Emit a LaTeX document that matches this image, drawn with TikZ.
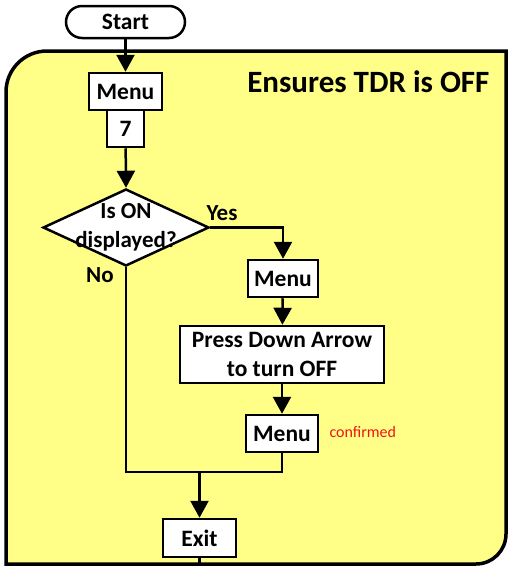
\documentclass[tikz,border=0pt]{standalone}
\usepackage{fontspec}
\setmainfont{Carlito}
\usetikzlibrary{arrows.meta,shapes.geometric}
\definecolor{panel}{RGB}{255,255,136}
\definecolor{conf}{RGB}{240,20,20}
\tikzset{
  stepbox/.style={draw,fill=white,line width=2.5pt,inner sep=0pt,font=\bfseries\fontsize{23.5}{28.5}\selectfont,align=center},
  conn/.style={line width=2.5pt},
  arr/.style={conn,-{Triangle[width=18pt,length=17pt]}},
  lbl/.style={font=\bfseries\fontsize{23}{29}\selectfont},
}
\begin{document}
\begin{tikzpicture}[x=1pt,y=-1pt]
\useasboundingbox (0,0) rectangle (508,566);
% panel
\draw[line width=3.5pt,fill=panel] (6,568) -- (6,92) arc[start angle=180,end angle=270,radius=41] -- (506,51) -- (506,534) arc[start angle=0,end angle=90,radius=30] -- (6,564) -- cycle;
\node[font=\bfseries\fontsize{31}{36}\selectfont,anchor=east] (title) at (493,82) {Ensures TDR is OFF};
% nodes
\node[stepbox,rounded corners=16pt,minimum width=119pt,minimum height=32pt] (start) at (125.5,22) {Start};
\node[stepbox,minimum width=73pt,minimum height=37pt] (menu1) at (125.5,91.5) {Menu};
\node[stepbox,minimum width=37pt,minimum height=37pt] (seven) at (125.5,128.5) {7};
\node[draw,fill=white,line width=2.5pt,diamond,inner sep=0pt,aspect=2.16,minimum width=166pt,minimum height=77pt] (dia) at (126,227.5) {};
\node[lbl,align=center] (diatext) at (dia.center) {Is ON\\displayed?};
\node[lbl] (yes) at (222,213) {Yes};
\node[lbl] (no) at (100,275) {No};
\node[stepbox,minimum width=70pt,minimum height=37pt] (menu2) at (283,278.5) {Menu};
\node[stepbox,minimum width=204pt,minimum height=57pt] (press) at (282,354.5) {Press Down Arrow\\to turn OFF};
\node[stepbox,minimum width=72pt,minimum height=37pt] (menu3) at (282,433.5) {Menu};
\node[text=conf,font=\fontsize{16}{19}\selectfont,anchor=west] (confirmed) at (326,432) {confirmed};
\node[stepbox,minimum width=73pt,minimum height=38pt] (exit) at (199.5,538) {Exit};
\coordinate (j) at (199.5,472);
\coordinate (bottom) at (199.5,570);
% connectors
\draw[arr] (start) -- (menu1);
\draw[arr] (seven) -- (dia.north);
\draw[arr] (dia.east) -| (menu2.north);
\draw[arr] (menu2) -- (press);
\draw[arr] (press) -- (menu3);
\draw[conn] (dia.south) -- (dia.south |- j) -- (menu3.south |- j) -- (menu3.south);
\draw[arr] (j) -- (exit.north);
\draw[conn] (exit.south) -- (bottom);
\end{tikzpicture}
\end{document}
